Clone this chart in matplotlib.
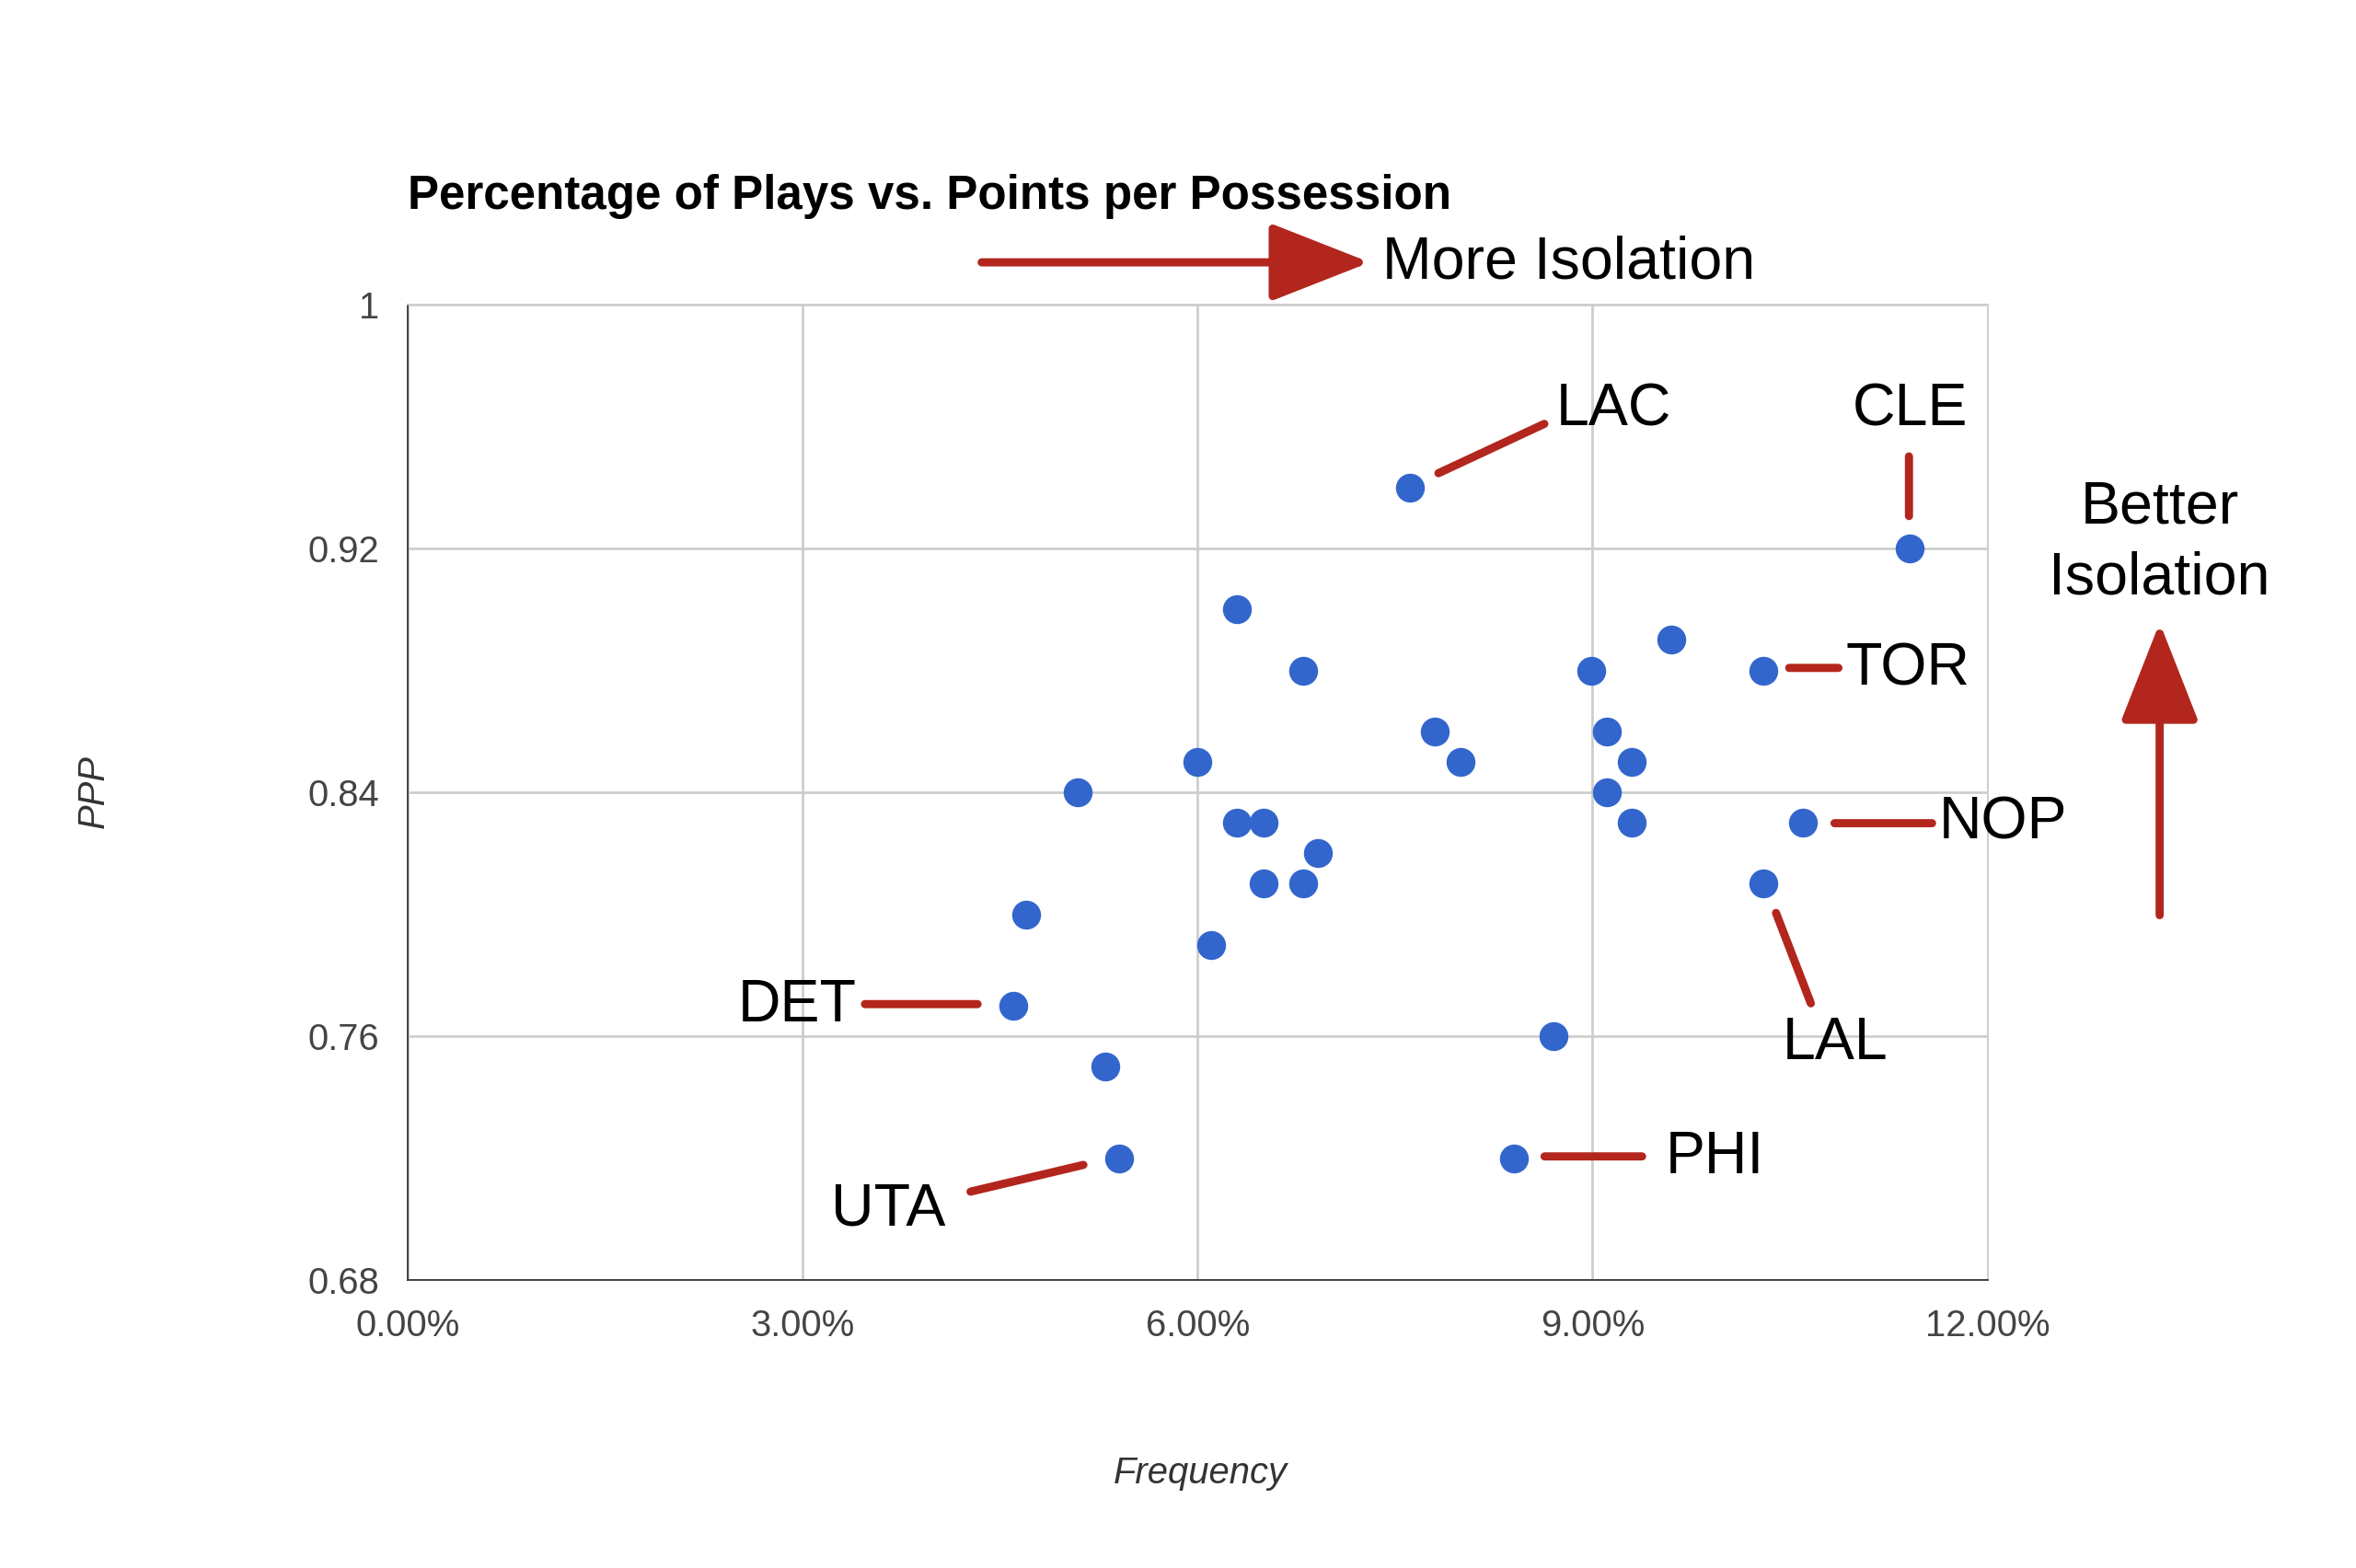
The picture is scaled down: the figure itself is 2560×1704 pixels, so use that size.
import matplotlib.pyplot as plt
from matplotlib.ticker import FuncFormatter

freq = [7.61, 11.41, 6.30, 6.80, 8.99, 9.60, 10.30, 7.80, 8.00, 9.11, 9.30, 9.11, 9.30,
        10.60, 10.30, 6.00, 5.09, 6.30, 6.50, 6.91, 6.50, 6.80, 4.70, 6.10, 4.60, 8.70,
        5.30, 5.40, 8.40]
ppp = [0.940, 0.920, 0.900, 0.880, 0.880, 0.890, 0.880, 0.860, 0.850, 0.860, 0.850,
       0.840, 0.830, 0.830, 0.810, 0.850, 0.840, 0.830, 0.830, 0.820, 0.810, 0.810,
       0.800, 0.790, 0.770, 0.760, 0.750, 0.720, 0.720]
x_ticks = [0, 3, 6, 9, 12]
y_ticks = [0.68, 0.76, 0.84, 0.92, 1.0]

RED = '#b3261e'
BLUE = '#3366cc'
W, H = 1560, 1040  # layout grid of the reference, in its own pixels


def f(px, py):
    return (px / W, 1 - py / H)


def main():
    plt.rcParams['font.family'] = ['Liberation Sans', 'DejaVu Sans']
    fig = plt.figure(figsize=(16, 10.65), dpi=160)
    l, b = f(270, 849)
    r, t = f(1316, 202)
    ax = fig.add_axes([l, b, r - l, t - b])

    ax.scatter(freq, ppp, s=200, color=BLUE, zorder=3, linewidths=0)
    ax.set_xlim(0, 12)
    ax.set_ylim(0.68, 1.0)
    ax.set_xticks(x_ticks)
    ax.set_yticks(y_ticks)
    ax.xaxis.set_major_formatter(FuncFormatter(lambda v, _: f'{v:.2f}%'))
    ax.yaxis.set_major_formatter(FuncFormatter(lambda v, _: f'{v:g}'))
    ax.tick_params(length=0, labelsize=18, labelcolor='#444444', pad=14)
    ax.grid(color='#cccccc', lw=1.2)
    ax.set_axisbelow(True)
    for s in ['top', 'right']:
        ax.spines[s].set_color('#cccccc')
    for s in ['left', 'bottom']:
        ax.spines[s].set_color('#333333')

    fig.text(*f(270, 130), 'Percentage of Plays vs. Points per Possession',
             fontsize=23, fontweight='bold', ha='left', va='center')
    fig.text(*f(795, 977), 'Frequency', fontsize=18, style='italic',
             color='#333333', ha='center', va='center')
    fig.text(*f(62, 525), 'PPP', fontsize=18, style='italic', rotation=90,
             color='#333333', ha='center', va='center')

    def seg(p1, p2):
        ax.annotate('', xy=f(*p2), xytext=f(*p1), xycoords='figure fraction',
                    textcoords='figure fraction',
                    arrowprops=dict(arrowstyle='-', color=RED, lw=4))

    def lab(p, s, ha):
        fig.text(*f(*p), s, fontsize=29, ha=ha, va='center')

    seg((950, 315), (1025, 280)); lab((1030, 272), 'LAC', 'left')
    seg((1264, 345), (1264, 300)); lab((1265, 272), 'CLE', 'center')
    seg((1182, 443), (1220, 443)); lab((1222, 444), 'TOR', 'left')
    seg((1212, 546), (1282, 546)); lab((1284, 546), 'NOP', 'left')
    seg((1175, 603), (1200, 668)); lab((1215, 692), 'LAL', 'center')
    seg((570, 666), (650, 666)); lab((567, 667), 'DET', 'right')
    seg((640, 791), (720, 772)); lab((588, 802), 'UTA', 'center')
    seg((1020, 767), (1090, 767)); lab((1103, 768), 'PHI', 'left')

    big = dict(arrowstyle='-|>,head_length=1.4,head_width=0.55', color=RED,
               lw=4, mutation_scale=30, shrinkA=0, shrinkB=0)
    ax.annotate('', xy=f(907, 174), xytext=f(650, 174), xycoords='figure fraction',
                textcoords='figure fraction', arrowprops=big)
    lab((915, 174), 'More Isolation', 'left')
    ax.annotate('', xy=f(1430, 413), xytext=f(1430, 607), xycoords='figure fraction',
                textcoords='figure fraction', arrowprops=big)
    fig.text(*f(1430, 360), 'Better\nIsolation', fontsize=29, ha='center',
             va='center', linespacing=1.35)

    fig.savefig('out.png', dpi=160)


if __name__ == '__main__':
    main()
